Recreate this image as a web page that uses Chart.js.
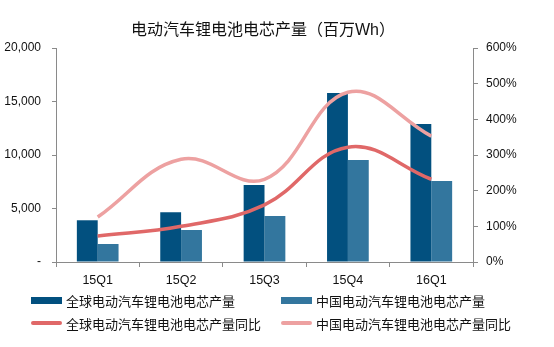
<!DOCTYPE html>
<html lang="zh">
<head>
    <meta charset="UTF-8">
    <title>电动汽车锂电池电芯产量</title>
    <style>
        html, body { margin: 0; padding: 0; background: #fff; }
        .wrap { position: relative; width: 554px; height: 347px; }
        .over { position: absolute; left: 0; top: 0; width: 554px; height: 347px; pointer-events: none;
                font-family: "Liberation Sans", "Noto Sans CJK SC", sans-serif; color: #111; }
        .title { position: absolute; left: 131px; top: 20px; font-size: 16px; line-height: 20px; white-space: nowrap; }
        .item { position: absolute; display: flex; align-items: center; height: 16px; font-size: 13px; white-space: nowrap; }
        .sw { width: 31px; margin-right: 4px; }
        .bar { height: 7px; }
        .line { height: 4px; border-radius: 2px; }
    </style>
</head>
<body>
    <div class="wrap">
        <canvas id="chart" width="554" height="347"></canvas>
        <div class="over" id="over">
            <div class="title">电动汽车锂电池电芯产量（百万Wh）</div>
        </div>
    </div>

    <script src="https://cdn.jsdelivr.net/npm/chart.js"></script>
    <script>
        // data
        const quarters = ['15Q1', '15Q2', '15Q3', '15Q4', '16Q1'];
        const globalOutput = [3900, 4650, 7200, 15800, 12900];
        const chinaOutput = [1680, 2990, 4300, 9530, 7570];
        const globalYoy = [73, 100, 160, 322, 232];
        const chinaYoy = [126, 288, 232, 476, 353];

        const seriesNames = ['全球电动汽车锂电池电芯产量', '中国电动汽车锂电池电芯产量',
                             '全球电动汽车锂电池电芯产量同比', '中国电动汽车锂电池电芯产量同比'];
        const colors = ['#02507f', '#33769e', '#e06868', '#eda1a1'];

        const fontFamily = '"Liberation Sans", "Noto Sans CJK SC", sans-serif';
        const axisColor = '#8a8a8a';

        const ctx = document.getElementById('chart').getContext('2d');
        new Chart(ctx, {
            data: {
                labels: quarters,
                datasets: [
                    { type: 'bar', label: seriesNames[0], data: globalOutput, backgroundColor: colors[0],
                      yAxisID: 'y', order: 2, categoryPercentage: 0.5, barPercentage: 1 },
                    { type: 'bar', label: seriesNames[1], data: chinaOutput, backgroundColor: colors[1],
                      yAxisID: 'y', order: 2, categoryPercentage: 0.5, barPercentage: 1 },
                    { type: 'line', label: seriesNames[2], data: globalYoy, borderColor: colors[2],
                      borderWidth: 3.5, tension: 0.4, pointRadius: 0, yAxisID: 'y1', order: 0 },
                    { type: 'line', label: seriesNames[3], data: chinaYoy, borderColor: colors[3],
                      borderWidth: 3.5, tension: 0.4, pointRadius: 0, yAxisID: 'y1', order: 1 }
                ]
            },
            options: {
                responsive: false,
                animation: false,
                layout: { padding: { top: 48 } },
                plugins: {
                    legend: { display: false },
                    tooltip: { enabled: false },
                    title: { display: false }
                },
                scales: {
                    x: {
                        offset: true,
                        grid: { offset: true, drawOnChartArea: false, tickLength: 5, color: axisColor },
                        border: { color: axisColor },
                        ticks: { color: '#111', font: { family: fontFamily, size: 12.5 }, padding: 6, maxRotation: 0 },
                        afterFit: s => { s.height = 85; }
                    },
                    y: {
                        position: 'left',
                        min: 0, max: 20000,
                        grid: { drawOnChartArea: false, tickLength: 4, color: axisColor },
                        border: { color: axisColor },
                        ticks: {
                            stepSize: 5000, color: '#111', font: { family: fontFamily, size: 12 }, padding: 11,
                            callback: v => v === 0 ? '-' : v.toLocaleString('en-US')
                        },
                        afterFit: s => { s.width = 56; }
                    },
                    y1: {
                        position: 'right',
                        min: 0, max: 600,
                        grid: { drawOnChartArea: false, tickLength: 5, color: axisColor },
                        border: { color: axisColor },
                        ticks: { stepSize: 100, color: '#111', font: { family: fontFamily, size: 12 }, padding: 8,
                                 callback: v => v + '%' },
                        afterFit: s => { s.width = 81; }
                    }
                }
            }
        });

        // html legend in two columns
        const over = document.getElementById('over');
        const spots = [[31, 292], [281, 292], [31, 315], [281, 315]];
        seriesNames.forEach((name, i) => {
            const item = document.createElement('div');
            item.className = 'item';
            item.style.left = spots[i][0] + 'px';
            item.style.top = spots[i][1] + 'px';
            item.innerHTML = `<span class="sw ${i < 2 ? 'bar' : 'line'}" style="background:${colors[i]}"></span><span>${name}</span>`;
            over.appendChild(item);
        });
    </script>
</body>
</html>
